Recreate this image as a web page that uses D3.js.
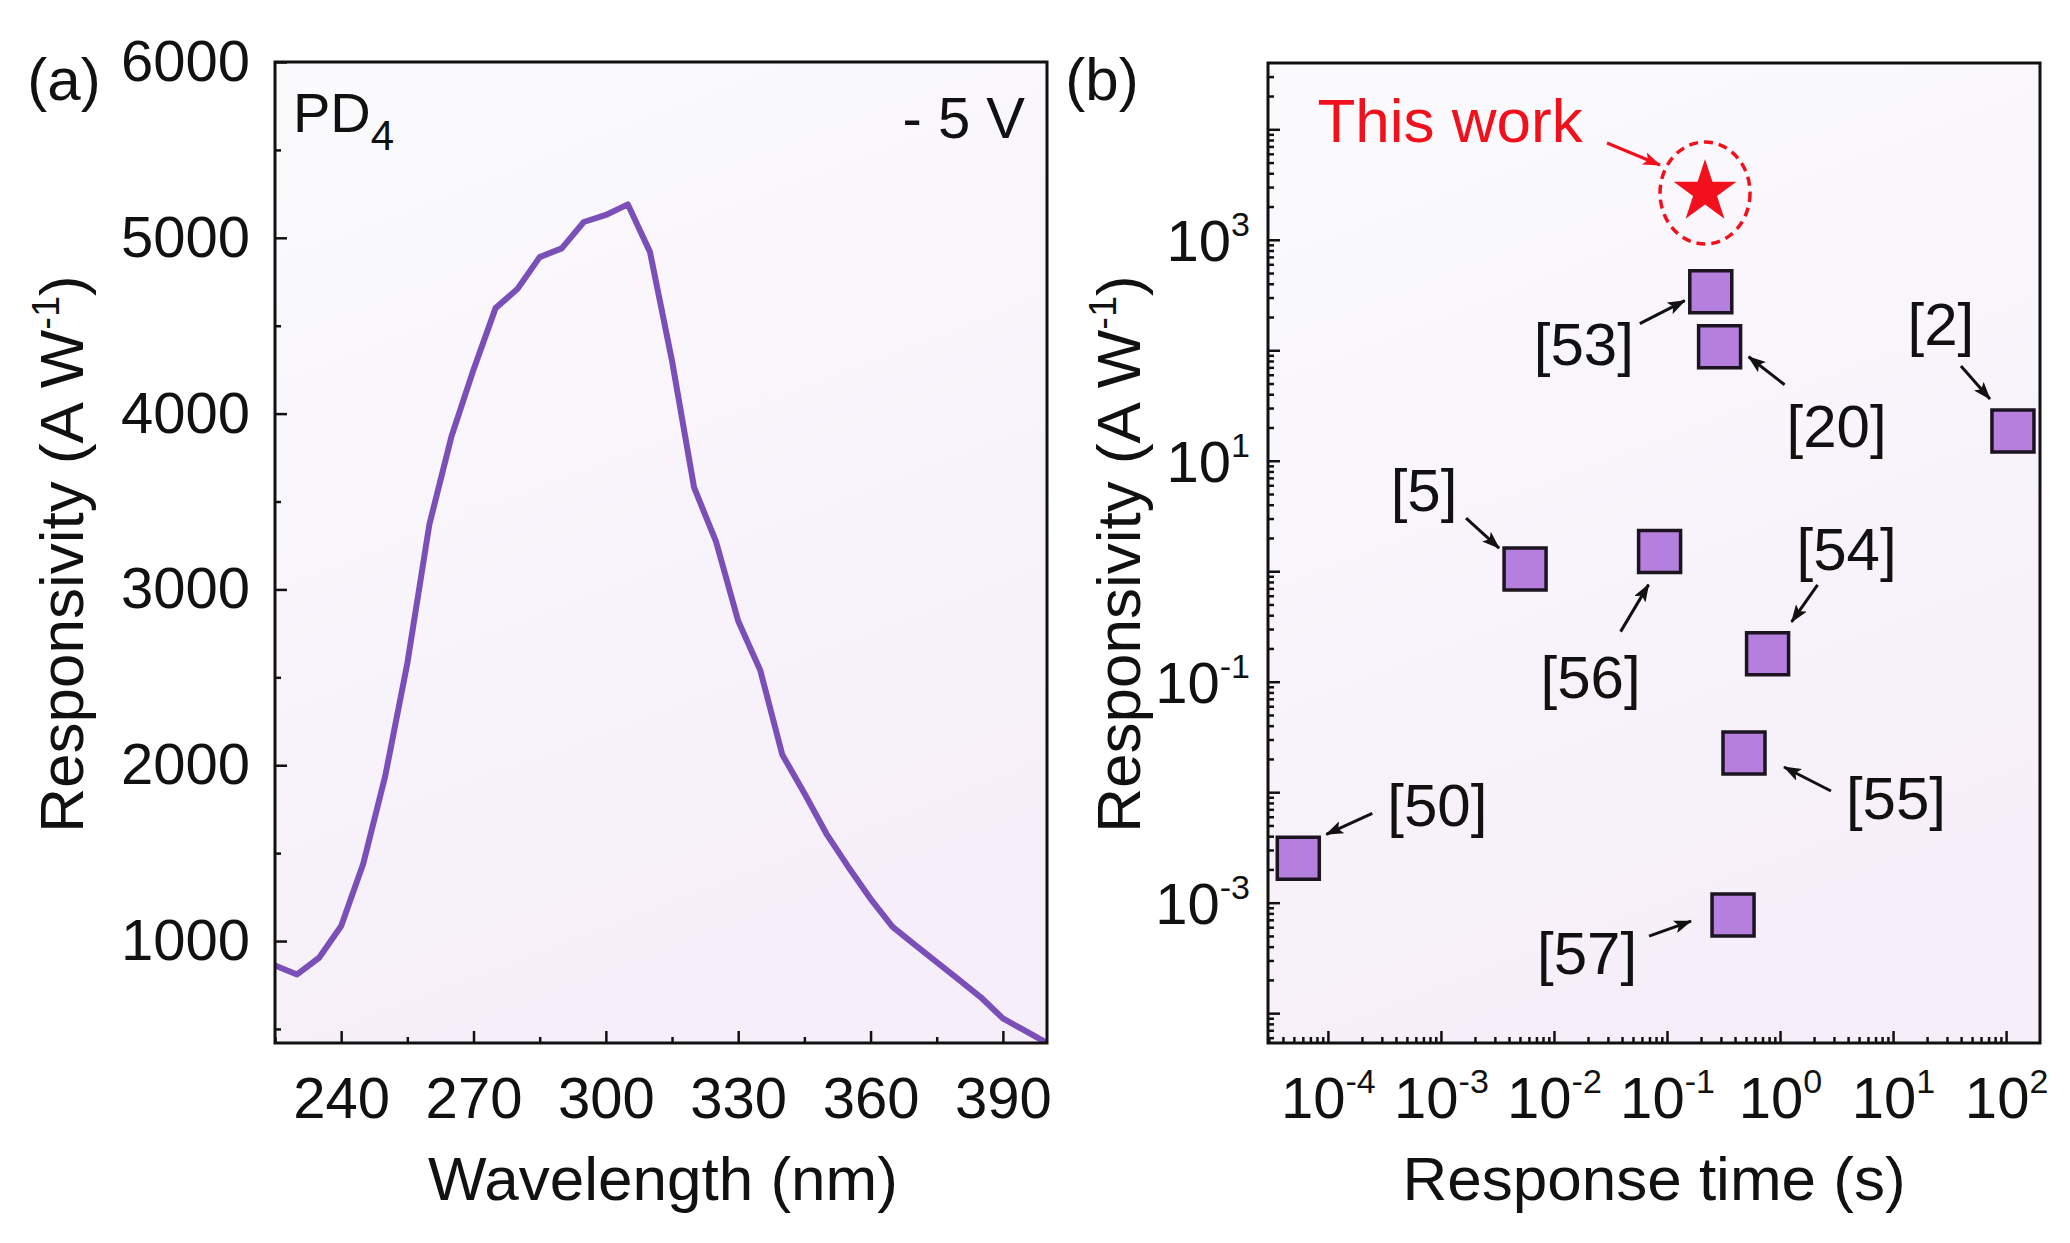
<!DOCTYPE html>
<html>
<head>
<meta charset="utf-8">
<script src="https://cdn.jsdelivr.net/npm/d3@7"></script>
<style>
  body { margin: 0; background: #fff; }
  svg text { font-family: "Liberation Sans", Arial, sans-serif; fill: #111; }
</style>
</head>
<body>
<svg id="fig" width="2070" height="1243"></svg>
<script>
// (a) spectral responsivity of PD4 at -5 V
const wavelength = [225, 230, 235, 240, 245, 250, 255, 260, 265, 270, 275, 280, 285, 290, 295, 300,
  305, 310, 315, 320, 325, 330, 335, 340, 345, 350, 355, 360, 365, 370, 375, 380, 385, 390, 395, 400];
const responsivity = [860, 810, 905, 1085, 1440, 1940, 2580, 3370, 3870, 4250, 4600, 4710, 4890, 4940, 5090, 5130,
  5190, 4920, 4300, 3580, 3270, 2820, 2540, 2060, 1840, 1610, 1420, 1240, 1080, 980, 880, 780, 680, 560, 490, 420];
const wlTicks = [240, 270, 300, 330, 360, 390];
const respTicks = [1000, 2000, 3000, 4000, 5000, 6000];

// (b) comparison with reported devices
const refLabels = ['[53]', '[20]', '[2]', '[5]', '[56]', '[54]', '[55]', '[50]', '[57]'];
const refTime = [0.244, 0.292, 115, 0.00555, 0.086, 0.776, 0.48, 5.47e-5, 0.384];
const refResp = [339, 107.6, 18.6, 1.047, 1.505, 0.1788, 0.02262, 0.00252, 7.73e-4];
const thisTime = [0.217];
const thisResp = [2706];
const timeExps = [-4, -3, -2, -1, 0, 1, 2];
const respExps = [-3, -1, 1, 3];

// label / arrow placement relative to each square (px)
const calloutOffsets = [
  { text: [-127, 52], from: [-71, 32], to: [-26, 9] },
  { text: [117, 79], from: [65, 38], to: [29, 10] },
  { text: [-72, -107], from: [-52, -65], to: [-23, -32] },
  { text: [-101, -79], from: [-59, -51], to: [-26, -21] },
  { text: [-69, 125], from: [-39, 80], to: [-11, 33] },
  { text: [79, -105], from: [50, -69], to: [24, -32] },
  { text: [152, 45], from: [87, 38], to: [40, 14] },
  { text: [139, -53], from: [74, -45], to: [28, -24] },
  { text: [-146, 38], from: [-84, 21], to: [-42, 6] },
];

const svg = d3.select('#fig');
const defs = svg.append('defs');

const bg = defs.append('linearGradient').attr('id', 'panel-bg')
  .attr('x1', 0).attr('y1', 0).attr('x2', 0.3).attr('y2', 1);
bg.append('stop').attr('offset', '0%').attr('stop-color', '#fbfbfd');
bg.append('stop').attr('offset', '100%').attr('stop-color', '#f6eff9');

function arrowMarker(id, color) {
  defs.append('marker')
    .attr('id', id)
    .attr('markerUnits', 'userSpaceOnUse')
    .attr('viewBox', '0 0 18 13')
    .attr('refX', 17)
    .attr('refY', 6.5)
    .attr('markerWidth', 18)
    .attr('markerHeight', 13)
    .attr('orient', 'auto')
    .append('path')
    .style('fill', color)
    .attr('d', 'M0,0 L18,6.5 L0,13 L4,6.5 Z');
}
arrowMarker('arrow-black', '#111');
arrowMarker('arrow-red', '#f2101c');

const A = { left: 275, right: 1047, top: 62, bottom: 1043 };
const B = { left: 1268, right: 2040, top: 63, bottom: 1043 };

function panel(p) {
  svg.append('rect')
    .attr('x', p.left).attr('y', p.top)
    .attr('width', p.right - p.left).attr('height', p.bottom - p.top)
    .style('fill', 'url(#panel-bg)');
}
function frame(p) {
  svg.append('rect')
    .attr('x', p.left).attr('y', p.top)
    .attr('width', p.right - p.left).attr('height', p.bottom - p.top)
    .style('fill', 'none').style('stroke', '#111').style('stroke-width', 3);
}
function styleAxis(g) {
  g.select('.domain').remove();
  g.selectAll('line').style('stroke', '#111').style('stroke-width', 2.5);
  g.selectAll('text').style('font-size', '58px').style('fill', '#111');
}

panel(A);
panel(B);

// ---------- panel (a) ----------
const xA = d3.scaleLinear().domain([225, 400]).range([A.left, A.right]);
const yA = d3.scaleLinear().domain([420, 6000]).range([A.bottom, A.top]);

svg.append('clipPath').attr('id', 'clip-a')
  .append('rect').attr('x', A.left).attr('y', A.top)
  .attr('width', A.right - A.left).attr('height', A.bottom - A.top);

svg.append('path')
  .datum(wavelength.map((w, i) => [w, responsivity[i]]))
  .attr('clip-path', 'url(#clip-a)')
  .attr('d', d3.line().x((d) => xA(d[0])).y((d) => yA(d[1])))
  .style('fill', 'none')
  .style('stroke', '#7a4fb8')
  .style('stroke-width', 6)
  .style('stroke-linejoin', 'round');

svg.append('g').attr('transform', `translate(0,${A.bottom})`)
  .call(d3.axisBottom(xA).tickValues(wlTicks).tickSize(-12).tickPadding(34))
  .call(styleAxis);
svg.append('g').attr('transform', `translate(0,${A.bottom})`)
  .call(d3.axisBottom(xA).tickValues(wlTicks.map((t) => t + 15).concat([225]).filter((t) => t < 400))
    .tickSize(-6).tickFormat(''))
  .call(styleAxis);
svg.append('g').attr('transform', `translate(${A.left},0)`)
  .call(d3.axisLeft(yA).tickValues(respTicks).tickSize(-12).tickPadding(25).tickFormat(d3.format('d')))
  .call(styleAxis);
svg.append('g').attr('transform', `translate(${A.left},0)`)
  .call(d3.axisLeft(yA).tickValues(respTicks.map((t) => t - 500)).tickSize(-6).tickFormat(''))
  .call(styleAxis);

frame(A);

const pd = svg.append('text').attr('x', 293).attr('y', 132).style('font-size', '56px');
pd.append('tspan').text('PD');
pd.append('tspan').attr('dy', 18).style('font-size', '42px').text('4');
svg.append('text').attr('x', 1025).attr('y', 138).attr('text-anchor', 'end')
  .style('font-size', '58px').text('- 5 V');

svg.append('text').attr('x', 663).attr('y', 1200).attr('text-anchor', 'middle')
  .style('font-size', '62px').text('Wavelength (nm)');

function yTitle(x, y) {
  const t = svg.append('text').attr('transform', `translate(${x},${y}) rotate(-90)`)
    .attr('text-anchor', 'middle').style('font-size', '62px');
  t.append('tspan').text('Responsivity (A W');
  t.append('tspan').attr('dy', -24).style('font-size', '38px').text('-1');
  t.append('tspan').attr('dy', 24).text(')');
}
yTitle(83, 554);
svg.append('text').attr('x', 64).attr('y', 100).attr('text-anchor', 'middle')
  .style('font-size', '60px').text('(a)');

// ---------- panel (b) ----------
const xB = d3.scaleLog().domain([10 ** -4.53, 10 ** 2.3]).range([B.left, B.right]);
const yB = d3.scaleLog().domain([10 ** -4.27, 10 ** 4.6]).range([B.bottom, B.top]);

function logMinors(scale) {
  const [lo, hi] = scale.domain();
  const out = [];
  for (let e = Math.floor(Math.log10(lo)); e <= Math.ceil(Math.log10(hi)); e += 1) {
    for (let k = 2; k <= 9; k += 1) {
      const v = k * 10 ** e;
      if (v > lo && v < hi) out.push(v);
    }
  }
  return out;
}

const xMajor = timeExps.map((e) => 10 ** e);
const yMajor = d3.range(-4, 5).map((e) => 10 ** e);

const gxB = svg.append('g').attr('transform', `translate(0,${B.bottom})`)
  .call(d3.axisBottom(xB).tickValues(xMajor).tickSize(-12).tickFormat(''))
  .call(styleAxis);
svg.append('g').attr('transform', `translate(0,${B.bottom})`)
  .call(d3.axisBottom(xB).tickValues(logMinors(xB)).tickSize(-6).tickFormat(''))
  .call(styleAxis);
const gyB = svg.append('g').attr('transform', `translate(${B.left},0)`)
  .call(d3.axisLeft(yB).tickValues(yMajor).tickSize(-12).tickFormat(''))
  .call(styleAxis);
svg.append('g').attr('transform', `translate(${B.left},0)`)
  .call(d3.axisLeft(yB).tickValues(logMinors(yB)).tickSize(-6).tickFormat(''))
  .call(styleAxis);

gxB.selectAll('.tick').each(function (d) {
  const t = d3.select(this).append('text').attr('y', 75).attr('text-anchor', 'middle')
    .style('font-size', '58px').style('fill', '#111');
  t.append('tspan').text('10');
  t.append('tspan').attr('dy', -25).style('font-size', '34px').text(Math.round(Math.log10(d)));
});
gyB.selectAll('.tick').each(function (d) {
  const e = Math.round(Math.log10(d));
  if (!respExps.includes(e)) return;
  const t = d3.select(this).append('text').attr('x', -18).attr('y', 21).attr('text-anchor', 'end')
    .style('font-size', '58px').style('fill', '#111');
  t.append('tspan').text('10');
  t.append('tspan').attr('dy', -25).style('font-size', '34px').text(e);
});

frame(B);

const refs = refLabels.map((label, i) => ({
  label,
  x: xB(refTime[i]),
  y: yB(refResp[i]),
  off: calloutOffsets[i],
}));

const callout = svg.append('g').selectAll('g').data(refs).enter().append('g');
callout.append('line')
  .attr('x1', (d) => d.x + d.off.from[0])
  .attr('y1', (d) => d.y + d.off.from[1])
  .attr('x2', (d) => d.x + d.off.to[0])
  .attr('y2', (d) => d.y + d.off.to[1])
  .style('stroke', '#111')
  .style('stroke-width', 3)
  .attr('marker-end', 'url(#arrow-black)');
callout.append('text')
  .attr('x', (d) => d.x + d.off.text[0])
  .attr('y', (d) => d.y + d.off.text[1] + 21)
  .attr('text-anchor', 'middle')
  .style('font-size', '60px')
  .text((d) => d.label);

svg.append('g').selectAll('path').data(refs).enter().append('path')
  .attr('transform', (d) => `translate(${d.x},${d.y})`)
  .attr('d', d3.symbol(d3.symbolSquare, 1764))
  .style('fill', '#b57fdd')
  .style('stroke', '#1c1420')
  .style('stroke-width', 3.5);

// this work
const sx = xB(thisTime[0]);
const sy = yB(thisResp[0]);
svg.append('path')
  .attr('transform', `translate(${sx},${sy})`)
  .attr('d', d3.symbol(d3.symbolStar, 1222))
  .style('fill', '#f2101c');
svg.append('ellipse')
  .attr('cx', sx).attr('cy', sy + 1).attr('rx', 45).attr('ry', 51)
  .style('fill', 'none')
  .style('stroke', '#f2101c')
  .style('stroke-width', 3.5)
  .style('stroke-dasharray', '9,6');
svg.append('line')
  .attr('x1', sx - 98).attr('y1', sy - 49)
  .attr('x2', sx - 45).attr('y2', sy - 27)
  .style('stroke', '#f2101c')
  .style('stroke-width', 3)
  .attr('marker-end', 'url(#arrow-red)');
svg.append('text')
  .attr('x', sx - 255).attr('y', sy - 50)
  .attr('text-anchor', 'middle')
  .style('font-size', '62px')
  .style('fill', '#f2101c')
  .text('This work');

svg.append('text').attr('x', 1654).attr('y', 1200).attr('text-anchor', 'middle')
  .style('font-size', '62px').text('Response time (s)');
yTitle(1140, 554);
svg.append('text').attr('x', 1102).attr('y', 100).attr('text-anchor', 'middle')
  .style('font-size', '60px').text('(b)');
</script>
</body>
</html>
